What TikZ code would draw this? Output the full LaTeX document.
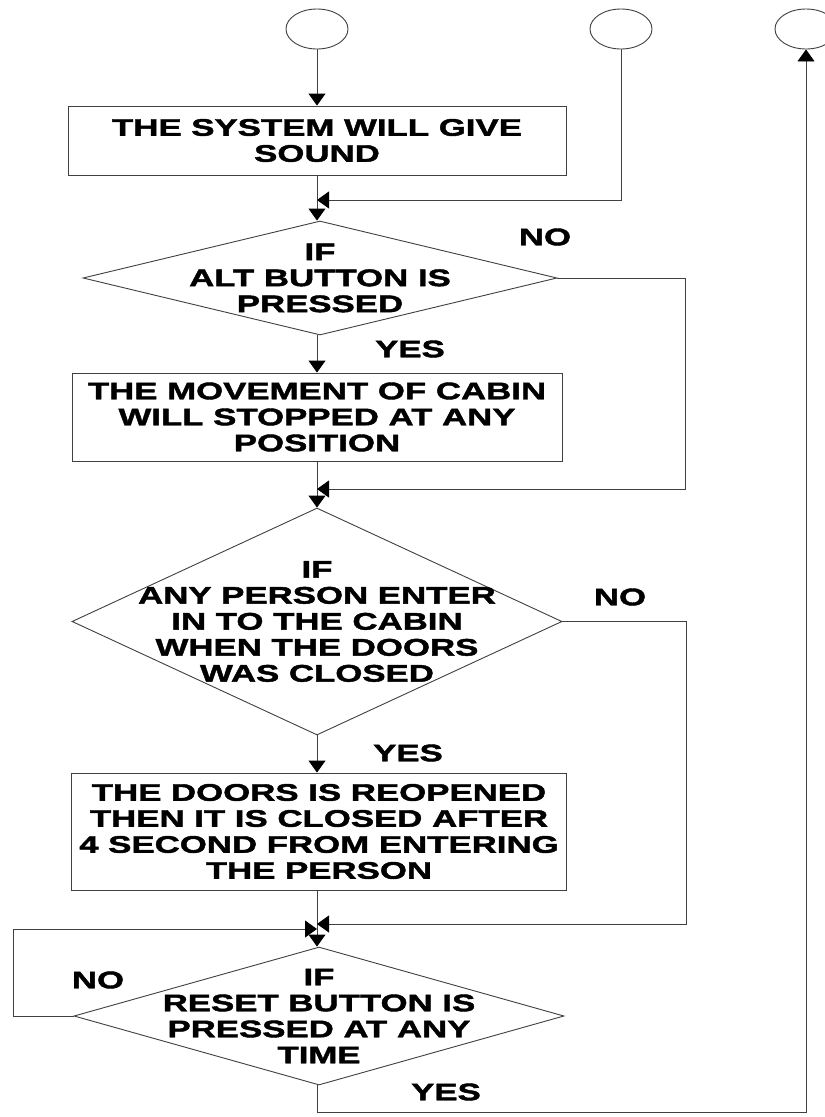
\documentclass[tikz,border=0pt]{standalone}
\usepackage{fontspec}
\newfontfamily\flowfont[FakeStretch=1.45,FakeBold=1.8]{Liberation Sans}
\usetikzlibrary{shapes.geometric,arrows.meta}
\begin{document}
\begin{tikzpicture}[x=1pt,y=-1pt,
  every node/.style={font=\flowfont\bfseries\fontsize{24}{26}\selectfont, text=black, inner sep=0pt},
  line/.style={draw=black!75, line width=0.9pt},
  arr/.style={line, -{Triangle[width=17pt,length=12pt,color=black,fill=black]}},
  terminal/.style={ellipse, draw=black!75, line width=0.9pt, minimum width=62pt, minimum height=40pt},
  process/.style={rectangle, draw=black!75, line width=0.9pt, align=center},
  decision/.style={diamond, draw=black!75, line width=0.9pt},
  caption/.style={align=center},
]
\fill[white] (0,0) rectangle (825,1117);
\useasboundingbox (0,0) rectangle (825,1117);

% start / connector circles
\node[terminal] (c1) at (317,29) {};
\node[terminal] (c2) at (621,29) {};
\node[terminal] (c3) at (806,29) {};

% main column
\node[process, minimum width=498pt, minimum height=69pt] (b1) at (317,140.5)
  {THE SYSTEM WILL GIVE\\SOUND};
\node[decision, minimum width=474pt, minimum height=114pt] (d1) at (320,278) {};
\node[caption] (d1t) at (d1) {IF\\ALT BUTTON IS\\PRESSED};
\node[process, minimum width=490pt, minimum height=88pt] (b2) at (317,417)
  {THE MOVEMENT OF CABIN\\WILL STOPPED AT ANY\\POSITION};
\node[decision, minimum width=490pt, minimum height=227pt] (d2) at (317,621.5) {};
\node[caption] (d2t) at (d2) {IF\\ANY PERSON ENTER\\IN TO THE CABIN\\WHEN THE DOORS\\WAS CLOSED};
\node[process, minimum width=495pt, minimum height=117pt] (b3) at (319,831.5)
  {THE DOORS IS REOPENED\\THEN IT IS CLOSED AFTER\\4 SECOND FROM ENTERING\\THE PERSON};
\node[decision, minimum width=490pt, minimum height=138pt] (d3) at (319,1016) {};
\node[caption] (d3t) at (d3) {IF\\RESET BUTTON IS\\PRESSED AT ANY\\TIME};

% branch labels
\node (no1) at (545,237) {NO};
\node (yes1) at (410,349) {YES};
\node (no2) at (620,597) {NO};
\node (yes2) at (408,753) {YES};
\node (no3) at (98,980) {NO};
\node (yes3) at (446,1092) {YES};

% junction points and loop corners
\coordinate (j1) at (317,200);
\coordinate (j2) at (317,489);
\coordinate (j3r) at (317,924);
\coordinate (j3l) at (317,929);
\coordinate (r1) at (685,0);
\coordinate (r2) at (686,0);
\coordinate (l3) at (13,0);
\coordinate (bot) at (317,1112);

% main flow
\draw[arr] (c1.south) -- (b1.north);
\draw[arr] (b1.south) -- (b1.south |- d1.north);
\draw[arr] (c2.south) |- (j1);
\draw[arr] (d1.south -| b2.north) -- (b2.north);
\draw[arr] (b2.south) -- (d2.north);
\draw[arr] (d1.east) -- (d1.east -| r1) |- (j2);
\draw[arr] (d2.south) -- (d2.south |- b3.north);
\draw[arr] (d2.south |- b3.south) -- (d2.south |- d3.north);
\draw[arr] (d2.east) -- (d2.east -| r2) |- (j3r);
\draw[arr] (d3.west) -- (d3.west -| l3) |- (j3l);
\draw[arr] (d3.south -| bot) -- (bot) -| (c3.south);
\end{tikzpicture}
\end{document}
